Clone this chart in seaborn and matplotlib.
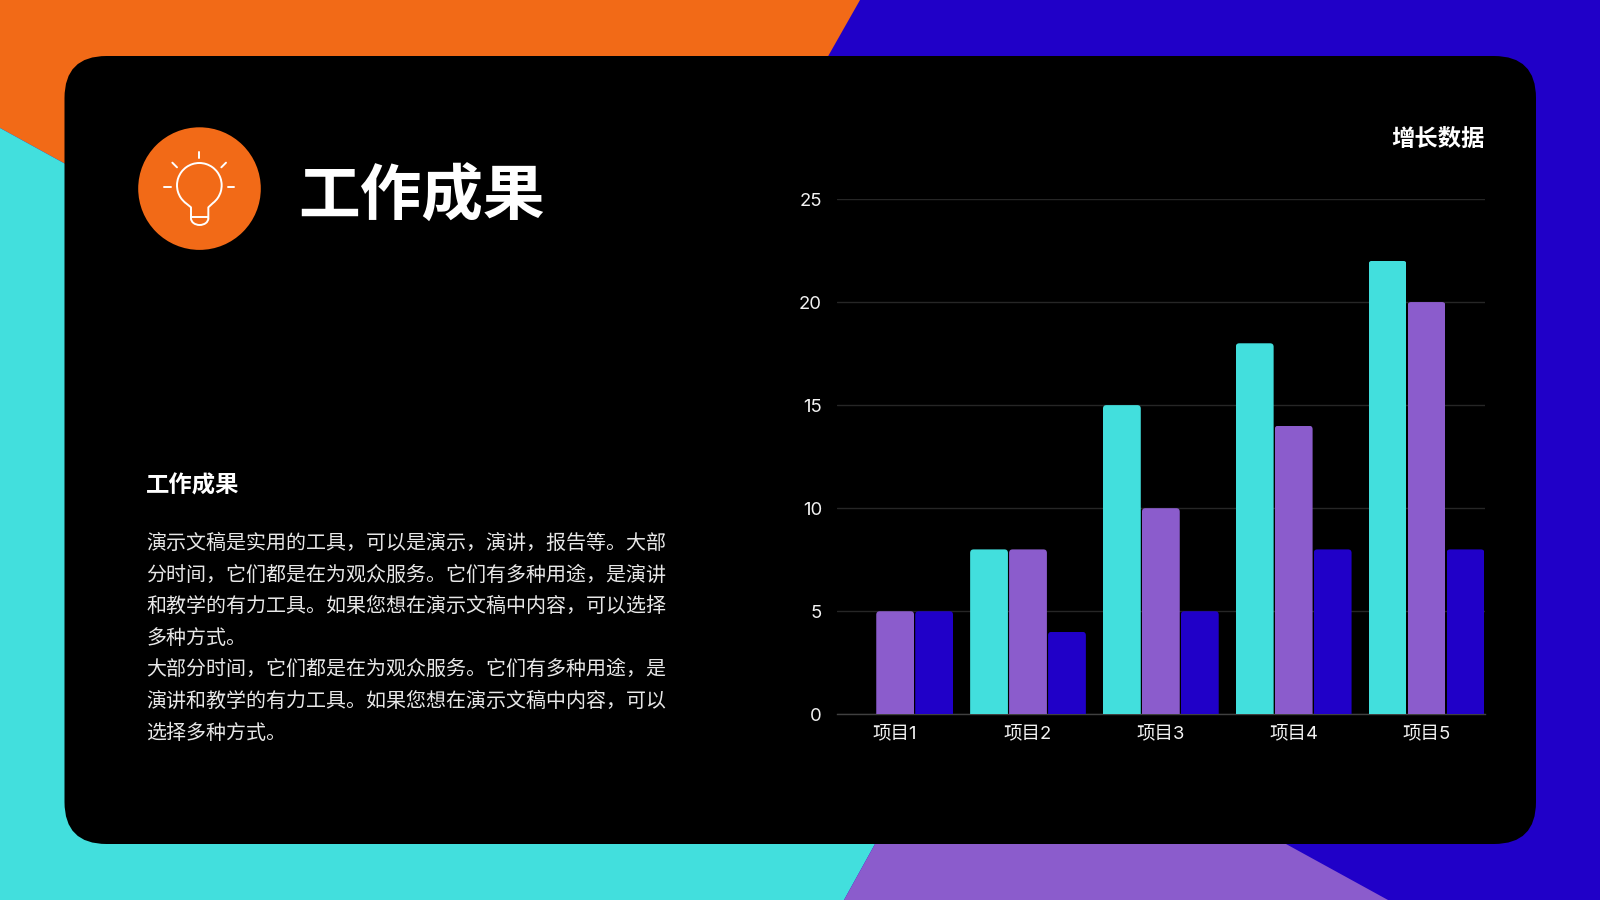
import numpy as np
import pandas as pd
import matplotlib
matplotlib.use("Agg")
import matplotlib.pyplot as plt
from matplotlib.patches import Polygon, Circle, FancyBboxPatch, Arc
from matplotlib.path import Path
import seaborn as sns

# ---- data ----
categories = ["项目1", "项目2", "项目3", "项目4", "项目5"]
series_names = ["系列1", "系列2", "系列3"]
series_a = [0, 8, 15, 18, 22]
series_b = [5, 8, 10, 14, 20]
series_c = [5, 4, 5, 8, 8]
y_ticks = [0, 5, 10, 15, 20, 25]

title_text = "工作成果"
sub_text = "工作成果"
chart_title = "增长数据"
body_lines = [
    "演示文稿是实用的工具，可以是演示，演讲，报告等。大部",
    "分时间，它们都是在为观众服务。它们有多种用途，是演讲",
    "和教学的有力工具。如果您想在演示文稿中内容，可以选择",
    "多种方式。",
    "大部分时间，它们都是在为观众服务。它们有多种用途，是",
    "演讲和教学的有力工具。如果您想在演示文稿中内容，可以",
    "选择多种方式。",
]

TEAL = "#42DFDD"
PURPLE = "#8B5CCC"
BLUE = "#2000C8"
ORANGE = "#F26A17"

sns.set_theme(style="dark")
plt.rcParams["font.family"] = ["Noto Sans CJK SC", "DejaVu Sans"]

W, H = 1600, 900
fig = plt.figure(figsize=(16, 9), dpi=100, facecolor=BLUE)

# ---- slide background, in pixel coordinates ----
bg = fig.add_axes([0, 0, 1, 1])
bg.set_xlim(0, W)
bg.set_ylim(H, 0)
bg.axis("off")
bg.add_patch(Polygon([(0, 0), (0, H), (W, H), (W, 0)], fc=BLUE, ec="none"))
bg.add_patch(Polygon([(0, 0), (860, 0), (600, 458), (0, 128)], fc=ORANGE, ec="none"))
bg.add_patch(Polygon([(0, 128), (600, 458), (875, 844), (844, H), (0, H)], fc=TEAL, ec="none"))
bg.add_patch(Polygon([(875, 844), (844, H), (1388, H), (1286, 844)], fc=PURPLE, ec="none"))
r = 42
bg.add_patch(FancyBboxPatch((64.5 + r, 56 + r), 1471.5 - 2 * r, 788 - 2 * r,
                            boxstyle=f"round,pad={r},rounding_size={r}", fc="black", ec="none"))

# ---- icon ----
bg.add_patch(Circle((199.5, 188.6), 61.3, fc=ORANGE, ec="none"))


def zx(v):
    return 120 + v / 3


def zy(v):
    return 110 + v / 3


lw = 1.4
rays = [((238, 125), (238, 145)), ((157, 158), (171, 172)), ((318, 158), (304, 172)),
        ((132, 231), (152, 231)), ((323, 231), (343, 231))]
for a, b in rays:
    bg.plot([zx(a[0]), zx(b[0])], [zy(a[1]), zy(b[1])], color="white", lw=lw, solid_capstyle="round")
bg.add_patch(Arc((zx(238), zy(226)), 134 / 3, 134 / 3, theta1=-232, theta2=52,
                 ec="white", lw=lw, fc="none"))
bg.plot([zx(v) for v in (197, 213, 213)], [zy(v) for v in (279, 292, 325)], color="white", lw=lw)
bg.plot([zx(v) for v in (279, 265, 265)], [zy(v) for v in (279, 292, 325)], color="white", lw=lw)
bg.plot([zx(213), zx(265)], [zy(320), zy(320)], color="white", lw=lw)
bg.add_patch(Arc((zx(239), zy(325)), 52 / 3, 40 / 3, theta1=0, theta2=180, ec="white", lw=lw, fc="none"))

# ---- text ----
bg.text(298, 197, title_text, color="white", fontsize=44.4, fontweight="bold", ha="left", va="center")
bg.text(146, 485.5, sub_text, color="white", fontsize=16.8, fontweight="bold", ha="left", va="center")
for i, line in enumerate(body_lines):
    bg.text(146, 543.5 + i * 31.6, line, color="#E8E8E8", fontsize=14.4, ha="left", va="center")
bg.text(1485, 139, chart_title, color="white", fontsize=16.8, fontweight="bold", ha="right", va="center")

# ---- chart ----
left, right, top, bottom = 836.7, 1485, 199, 714.3
ax = fig.add_axes([left / W, 1 - bottom / H, (right - left) / W, (bottom - top) / H])
ax.patch.set_alpha(0)

df = pd.DataFrame({
    "项目": categories * 3,
    "系列": np.repeat(series_names, len(categories)),
    "数值": series_a + series_b + series_c,
})
sns.barplot(data=df, x="项目", y="数值", hue="系列", order=categories, hue_order=series_names,
            palette=[TEAL, PURPLE, BLUE], width=0.88, gap=0.03, legend=False,
            saturation=1, linewidth=0, edgecolor="none", ax=ax, zorder=3)

half = 0.44
ax.set_xlim(-half, len(categories) - 1 + half)
ax.set_ylim(0, 25)
ax.set_yticks(y_ticks)
ax.set_xlabel("")
ax.set_ylabel("")
ax.grid(axis="y", color="#262626", lw=1)
ax.grid(axis="x", visible=False)
ax.set_axisbelow(True)
for s in ["top", "right", "left"]:
    ax.spines[s].set_visible(False)
ax.spines["bottom"].set_color("#404040")
ax.spines["bottom"].set_linewidth(1)
ax.tick_params(axis="both", length=0, colors="#F2F2F2", labelsize=13.3)
ax.tick_params(axis="y", pad=10.5)
ax.tick_params(axis="x", pad=8)
for lab in ax.get_xticklabels() + ax.get_yticklabels():
    lab.set_fontfamily(["Inter", "Noto Sans CJK SC"])
fig.canvas.draw()

# round the top corners of every bar by clipping it
px_x = (right - left) / (len(categories) - 1 + 2 * half)
px_y = (bottom - top) / 25
rx, ry = 3.5 / px_x, 3.5 / px_y
for bar in ax.patches:
    h = bar.get_height()
    if h <= 0:
        continue
    x0, w = bar.get_x(), bar.get_width()
    x1 = x0 + w
    verts = [(x0, -1), (x0, h - ry), (x0, h), (x0 + rx, h), (x1 - rx, h), (x1, h), (x1, h - ry), (x1, -1), (x0, -1)]
    codes = [Path.MOVETO, Path.LINETO, Path.CURVE3, Path.CURVE3, Path.LINETO,
             Path.CURVE3, Path.CURVE3, Path.LINETO, Path.CLOSEPOLY]
    bar.set_clip_path(Path(verts, codes), ax.transData)

fig.savefig("out.png", dpi=100, facecolor=fig.get_facecolor())
